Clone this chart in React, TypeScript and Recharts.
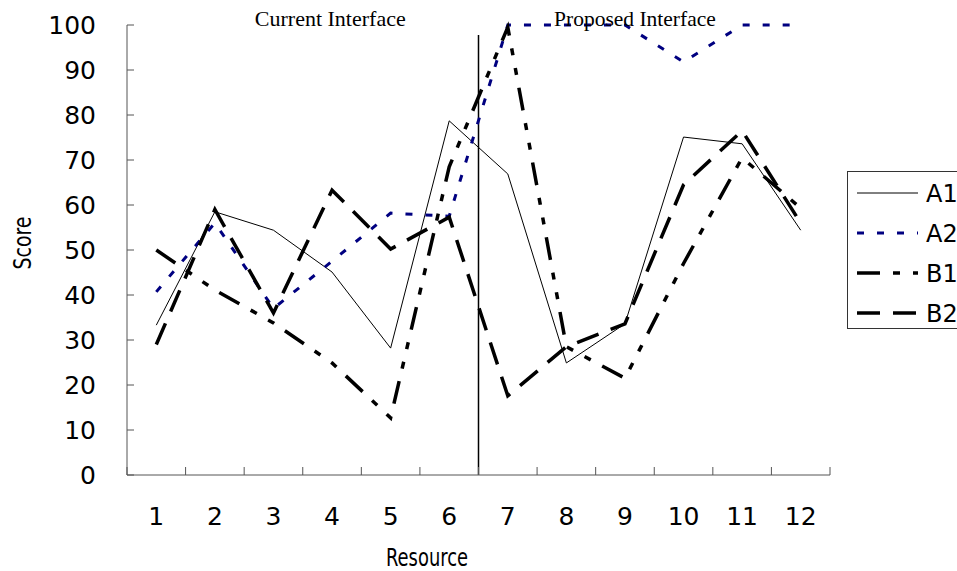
import { LineChart, Line, XAxis, YAxis, ReferenceLine, ReferenceDot, Legend, Label } from 'recharts';

// values
const resources = [1, 2, 3, 4, 5, 6, 7, 8, 9, 10, 11, 12];
const a1 = [33.3, 58.5, 54.4, 45.1, 28.2, 78.7, 66.9, 24.9, 33.6, 75.1, 73.6, 54.4];
const a2 = [40.7, 56, 37, 47.5, 58.2, 57.5, 100, 100, 100, 91.8, 100, 100];
const b1 = [50, 41.1, 33.8, 24.9, 12.7, 68.5, 99.5, 28.5, 21.5, 47, 70.5, 59.3];
const b2 = [29, 59, 36, 63.3, 50.2, 57.3, 17.6, 28.5, 33.6, 64.5, 76.5, 56];

const yTicks = [0, 10, 20, 30, 40, 50, 60, 70, 80, 90, 100];
// tick marks sit on the category edges, labels on the centres
const bandEdges = [0.5, 1.5, 2.5, 3.5, 4.5, 5.5, 6.5, 7.5, 8.5, 9.5, 10.5, 11.5, 12.5];
const xTicks = [...bandEdges, ...resources].sort((a, b) => a - b);

const series = [
  { key: 'A1', color: '#000000', width: 1, dash: undefined as string | undefined },
  { key: 'A2', color: '#000080', width: 3, dash: '7 13' },
  { key: 'B1', color: '#000000', width: 3.5, dash: '23 13 7 13 7 13' },
  { key: 'B2', color: '#000000', width: 3.5, dash: '23 13' },
];

const data = resources.map((r, i) => ({ resource: r, A1: a1[i], A2: a2[i], B1: b1[i], B2: b2[i] }));

const sans = 'DejaVu Sans';
const serif = 'Liberation Serif';
const axisColor = '#555';

function XTick(props: any) {
  const { x, y, payload } = props;
  if (Number.isInteger(payload.value)) {
    return (
      <text x={x} y={y + 50} textAnchor="middle" fontFamily={sans} fontSize={25} fill="#000">
        {payload.value}
      </text>
    );
  }
  return <line x1={x} x2={x} y1={y} y2={y - 8} stroke={axisColor} />;
}

function YTick(props: any) {
  const { x, y, payload } = props;
  return (
    <g>
      <line x1={x} x2={x + 7} y1={y} y2={y} stroke={axisColor} />
      <text x={x - 31} y={y} textAnchor="end" dominantBaseline="central" fontFamily={sans} fontSize={25} fill="#000">
        {payload.value}
      </text>
    </g>
  );
}

function LegendBox() {
  return (
    <div style={{ width: 140, height: 156, border: '1px solid #333', background: '#fff' }}>
      <svg width={140} height={156}>
        {series.map((s, i) => {
          const cy = 21 + 40 * i;
          return (
            <g key={s.key}>
              <line x1={9} x2={70} y1={cy} y2={cy} stroke={s.color} strokeWidth={s.width} strokeDasharray={s.dash} />
              <text x={78} y={cy + 9} fontFamily={sans} fontSize={24} fill="#000">
                {s.key}
              </text>
            </g>
          );
        })}
      </svg>
    </div>
  );
}

export default function App() {
  return (
    <div style={{ position: 'absolute', left: 0, top: 0, width: 957, height: 571, overflow: 'hidden', background: '#fff' }}>
      <LineChart width={957} height={571} data={data} margin={{ top: 25, right: 127, bottom: 0, left: 0 }}>
        <XAxis
          dataKey="resource"
          type="number"
          domain={[0.5, 12.5]}
          ticks={xTicks}
          interval={0}
          tickLine={false}
          tickSize={0}
          tickMargin={0}
          axisLine={{ stroke: axisColor }}
          tick={XTick}
          height={96}
          label={
            <Label
              content={() => (
                <text x={427} y={566} textAnchor="middle" fontFamily={sans} fontSize={24} fill="#000" textLength={82} lengthAdjust="spacingAndGlyphs">
                  Resource
                </text>
              )}
            />
          }
        />
        <YAxis
          domain={[0, 100]}
          ticks={yTicks}
          interval={0}
          width={127}
          tickLine={false}
          tickSize={0}
          tickMargin={0}
          axisLine={{ stroke: axisColor }}
          tick={YTick}
          label={
            <Label
              content={() => (
                <text
                  x={22}
                  y={243}
                  transform="rotate(-90 22 243)"
                  textAnchor="middle"
                  dominantBaseline="central"
                  fontFamily={sans}
                  fontSize={25}
                  fill="#000"
                  textLength={53}
                  lengthAdjust="spacingAndGlyphs"
                >
                  Score
                </text>
              )}
            />
          }
        />
        <ReferenceLine
          segment={[{ x: 6.5, y: 97.8 }, { x: 6.5, y: 0 }]}
          stroke="#000"
          strokeWidth={1.5}
        />
        {series.map((s) => (
          <Line
            key={s.key}
            type="linear"
            dataKey={s.key}
            stroke={s.color}
            strokeWidth={s.width}
            strokeDasharray={s.dash}
            dot={false}
            activeDot={false}
            isAnimationActive={false}
          />
        ))}
        <ReferenceDot
          x={3.97}
          y={100}
          r={0}
          fill="none"
          stroke="none"
          label={{ value: 'Current Interface', position: 'top', offset: -1, fontFamily: serif, fontSize: 22, fill: '#000' }}
        />
        <ReferenceDot
          x={9.17}
          y={100}
          r={0}
          fill="none"
          stroke="none"
          label={{ value: 'Proposed Interface', position: 'top', offset: -1, fontFamily: serif, fontSize: 21.5, fill: '#000' }}
        />
        <Legend
          layout="vertical"
          align="center"
          verticalAlign="middle"
          content={() => <LegendBox />}
          wrapperStyle={{ left: 847, top: 171, width: 'auto', height: 'auto' }}
        />
      </LineChart>
    </div>
  );
}
